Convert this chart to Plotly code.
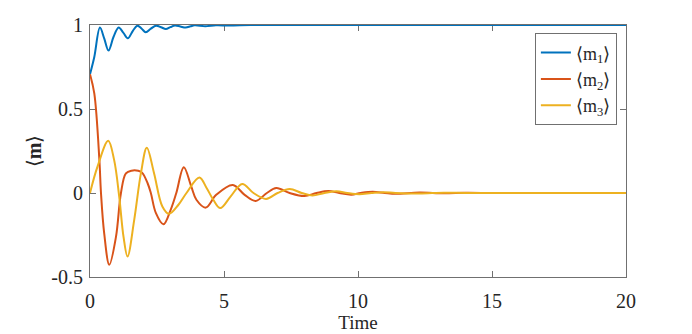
import plotly.graph_objects as go

# readings (extrema + crossings)
t_m1 = [0, 0.16, 0.37, 0.53, 0.69, 0.88, 1.07, 1.24, 1.41, 1.6, 1.77, 1.93, 2.08, 2.27, 2.46,
        2.65, 2.83, 3.0, 3.17, 3.37, 3.57, 3.75, 3.9, 4.3, 4.7, 5.2, 6, 7, 8, 10, 12, 14, 16, 18, 20]
m1 = [0.707, 0.81, 0.985, 0.92, 0.848, 0.93, 0.985, 0.955, 0.921, 0.965, 0.996, 0.978, 0.957, 0.978, 0.996,
      0.987, 0.976, 0.987, 0.997, 0.991, 0.985, 0.992, 0.998, 0.993, 0.998, 0.997, 1, 1, 1, 1, 1, 1, 1, 1, 1]

t_m2 = [0, 0.16, 0.35, 0.41, 0.53, 0.72, 0.97, 1.155, 1.34, 1.55, 1.8, 1.95, 2.15, 2.27, 2.46,
        2.74, 3.01, 3.22, 3.5, 3.78, 3.97, 4.32, 4.71, 5.33, 5.77, 6.18, 6.6, 6.95, 7.45, 8.0,
        8.45, 8.9, 9.3, 9.75, 10.1, 10.55, 11.0, 11.4, 12.3, 13.2, 14, 15, 16, 17, 18, 19, 20]
m2 = [0.707, 0.593, 0.197, 0, -0.24, -0.427, -0.26, 0, 0.117, 0.133, 0.132, 0.12, 0.058, 0, -0.12,
      -0.186, -0.1, 0, 0.153, 0.038, -0.04, -0.087, -0.011, 0.048, -0.011, -0.047, 0, 0.03, 0, -0.018,
      0, 0.012, 0, -0.01, 0, 0.007, 0, -0.005, 0.003, -0.002, 0.001, 0, 0, 0, 0, 0, 0]

t_m3 = [0, 0.28, 0.68, 0.9, 1.09, 1.25, 1.40, 1.65, 1.9, 2.12, 2.39, 2.70, 2.95, 3.3, 3.6,
        4.08, 4.35, 4.6, 4.86, 5.25, 5.68, 6.1, 6.57, 7.0, 7.45, 7.9, 8.3, 8.75, 9.2, 9.6,
        10.05, 10.5, 10.95, 11.4, 12.3, 13.2, 14, 15, 16, 17, 18, 19, 20]
m3 = [0, 0.157, 0.311, 0.197, -0.021, -0.26, -0.378, -0.16, 0.118, 0.27, 0.118, -0.08, -0.124, -0.07, 0,
      0.092, 0.03, -0.04, -0.09, -0.02, 0.054, 0, -0.035, 0, 0.024, 0, -0.015, 0, 0.01, 0,
      -0.007, 0, 0.005, 0, -0.003, 0.002, 0, 0, 0, 0, 0, 0, 0]

names = ["⟨m<sub>1</sub>⟩", "⟨m<sub>2</sub>⟩", "⟨m<sub>3</sub>⟩"]
colors = ["#0072BD", "#D95319", "#EDB120"]

fig = go.Figure()
for t, m, name, c in zip([t_m1, t_m2, t_m3], [m1, m2, m3], names, colors):
    fig.add_trace(go.Scatter(x=t, y=m, mode="lines", name=name,
                             line=dict(color=c, width=2, shape="spline", smoothing=1)))

font = "Liberation Serif, Times New Roman, serif"
axis_common = dict(showgrid=False, zeroline=False, ticks="inside", ticklen=6, tickwidth=1,
                   tickcolor="#707070", showline=True, linecolor="#707070", linewidth=1,
                   mirror="ticks", layer="below traces", automargin=False,
                   tickfont=dict(family=font, size=20, color="#262626"))

fig.update_xaxes(range=[0, 20], tickvals=[0, 5, 10, 15, 20], ticklabelstandoff=6,
                 title=dict(text="Time", font=dict(family=font, size=19, color="#262626"), standoff=0),
                 **axis_common)
fig.update_yaxes(range=[-0.5, 1], tickvals=[-0.5, 0, 0.5, 1], ticktext=["-0.5", "0", "0.5", "1"],
                 ticklabelstandoff=2,
                 title=dict(text="⟨<b>m</b>⟩", font=dict(family=font, size=20, color="#262626"), standoff=4),
                 **axis_common)

# page body has an 8px default margin, so the figure is a bit smaller than the window
fig.update_layout(
    width=684, height=326,
    margin=dict(l=82, r=66, t=17, b=57),
    plot_bgcolor="white", paper_bgcolor="white",
    legend=dict(x=0.983, y=0.967, xanchor="right", yanchor="top",
                bgcolor="white", bordercolor="#707070", borderwidth=1,
                font=dict(family=font, size=18, color="#262626"), itemwidth=30),
)

fig.write_html("out.html")
